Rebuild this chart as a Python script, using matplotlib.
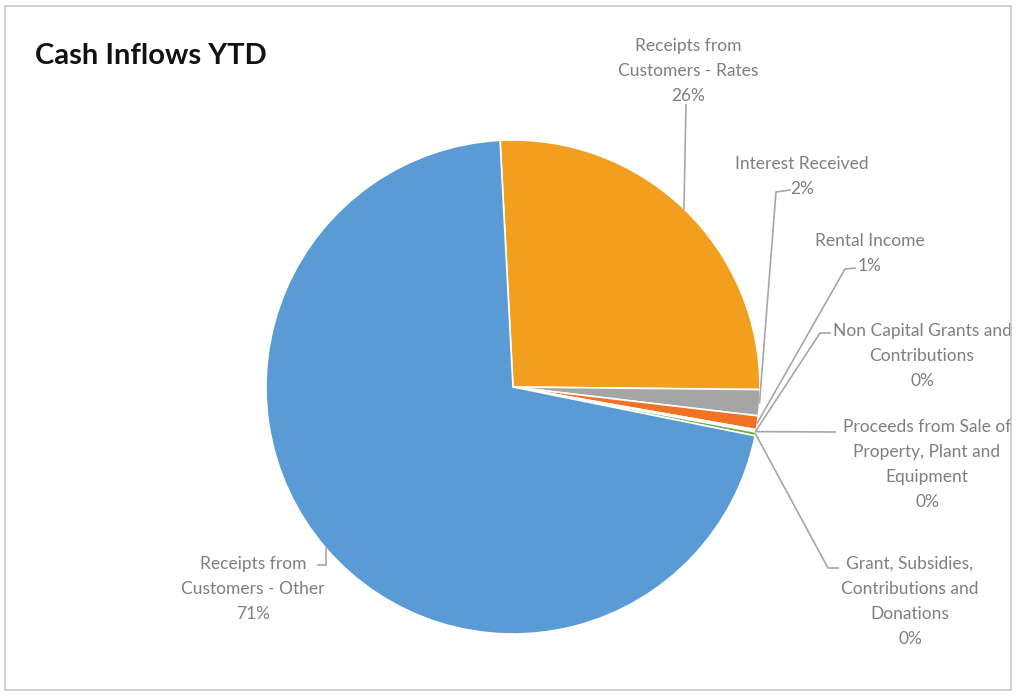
import numpy as np
import matplotlib.pyplot as plt

# slice order runs clockwise from the top
labels = ["Receipts from\nCustomers - Rates",
          "Interest Received",
          "Rental Income",
          "Non Capital Grants and\nContributions",
          "Proceeds from Sale of\nProperty, Plant and\nEquipment",
          "Grant, Subsidies,\nContributions and\nDonations",
          "Receipts from\nCustomers - Other"]
values = [26.0, 1.7, 0.9, 0.1, 0.05, 0.25, 71.0]
colors = ["#F29F1F", "#A5A5A5", "#F07222", "#FFC000", "#4472C4", "#70AD47", "#5B9BD5"]

W, H = 1016, 697
fig = plt.figure(figsize=(W / 100, H / 100), dpi=100)
ax = fig.add_axes([0, 0, 1, 1])

def py(y):  # pixel row -> data y
    return H - y

cx, cy, r = 513, py(387), 247
start = 93
wedges, _ = ax.pie(values, colors=colors, startangle=start, counterclock=False,
                   center=(cx, cy), radius=r, frame=True,
                   wedgeprops=dict(edgecolor="white", linewidth=1.2))
ax.set_xlim(0, W)
ax.set_ylim(0, H)
ax.set_aspect("equal")
ax.axis("off")

# frame round the chart
fig.patches.append(plt.Rectangle((5 / W, 7 / H), 1006 / W, 684 / H, transform=fig.transFigure,
                                 fill=False, edgecolor="#C8C8C8", linewidth=1.2))

ax.text(35, py(56), "Cash Inflows YTD", fontsize=21, fontweight="bold",
        family=["Lato", "DejaVu Sans"], color="#111111", va="center", ha="left")

pct = np.array(values) / sum(values) * 100

# label text position (centre x, bottom y in pixels) and leader elbow points
layout = [
    dict(xy=(688, 104), path=[(686, 105)]),
    dict(xy=(802, 197), path=[(776, 192), (790, 190)]),
    dict(xy=(870, 274), path=[(845, 269), (855, 268)]),
    dict(xy=(922, 389), path=[(820, 333), (830, 333)]),
    dict(xy=(927, 510), path=[(835, 432)]),
    dict(xy=(910, 647), path=[(828, 568), (838, 568)]),
    dict(xy=(253, 622), path=[(326, 565), (318, 565)]),
]

for w, lab, p, lay in zip(wedges, labels, pct, layout):
    mid = np.deg2rad((w.theta1 + w.theta2) / 2)
    ax0 = cx + r * np.cos(mid)
    ay0 = cy + r * np.sin(mid)
    pts = [(ax0, ay0)] + [(x, py(y)) for x, y in lay["path"]]
    xs, ys = zip(*pts)
    ax.plot(xs, ys, color="#A6A6A6", linewidth=1.2, zorder=1)
    ax.text(lay["xy"][0], py(lay["xy"][1]), f"{lab}\n{p:.0f}%", ha="center", va="bottom",
            multialignment="center", fontsize=12.5, linespacing=1.7,
            family=["Lato", "DejaVu Sans"], color="#7F7F7F")

fig.savefig("out.png", dpi=100)
